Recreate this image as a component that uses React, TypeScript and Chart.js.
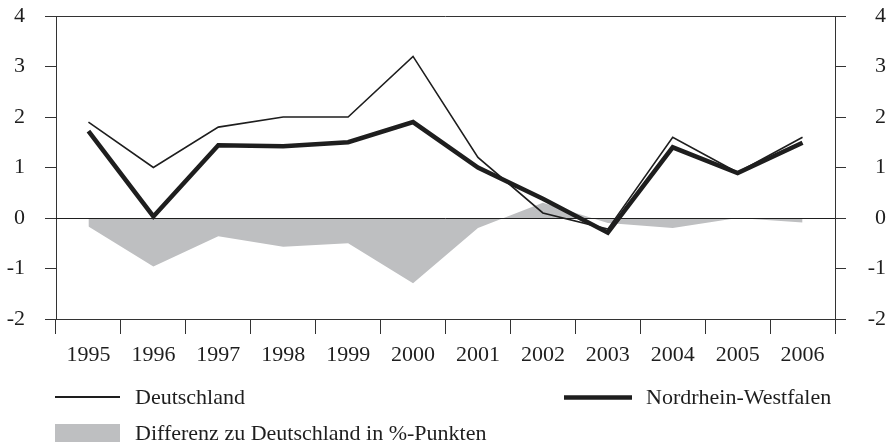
import React, { useEffect, useRef } from "react";
import { Chart, registerables } from "chart.js";

Chart.register(...registerables);

const years = ["1995", "1996", "1997", "1998", "1999", "2000", "2001", "2002", "2003", "2004", "2005", "2006"];
const deutschland = [1.9, 1.0, 1.8, 2.0, 2.0, 3.2, 1.2, 0.1, -0.22, 1.6, 0.9, 1.6];
const nrw = [1.72, 0.03, 1.44, 1.42, 1.5, 1.9, 1.0, 0.38, -0.29, 1.4, 0.89, 1.49];
const differenz = [-0.17, -0.96, -0.36, -0.57, -0.5, -1.29, -0.2, 0.3, -0.1, -0.2, 0.0, -0.09];

const labelDeutschland = "Deutschland";
const labelNrw = "Nordrhein-Westfalen";
const labelDiff = "Differenz zu Deutschland in %-Punkten";

const FONT = '"Liberation Serif", "Times New Roman", serif';
const INK = "#1e1e1e";
const AXIS = "#333333";
const GRAY = "#bebfc1";

export default function App() {
  const ref = useRef<HTMLCanvasElement | null>(null);

  useEffect(() => {
    if (!ref.current) return;
    const overlay = {
      id: "overlay",
      afterDatasetDraw(chart: any, args: any) {
        if (args.index !== 2) return;
        const { ctx, chartArea } = chart;
        const y0 = chart.scales.y.getPixelForValue(0);
        ctx.save();
        ctx.strokeStyle = INK;
        ctx.lineWidth = 1;
        ctx.beginPath();
        ctx.moveTo(chartArea.left, Math.round(y0) + 0.5);
        ctx.lineTo(chartArea.right, Math.round(y0) + 0.5);
        ctx.stroke();
        ctx.restore();
      },
      afterDraw(chart: any) {
        const { ctx, chartArea } = chart;
        ctx.save();
        ctx.strokeStyle = AXIS;
        ctx.lineWidth = 1;
        ctx.beginPath();
        ctx.moveTo(chartArea.left, Math.round(chartArea.top) + 0.5);
        ctx.lineTo(chartArea.right, Math.round(chartArea.top) + 0.5);
        ctx.stroke();

        // legend
        ctx.font = `22px ${FONT}`;
        ctx.fillStyle = INK;
        ctx.textBaseline = "alphabetic";
        ctx.textAlign = "left";
        ctx.strokeStyle = INK;
        ctx.lineWidth = 2;
        ctx.beginPath();
        ctx.moveTo(55, 397);
        ctx.lineTo(120, 397);
        ctx.stroke();
        ctx.fillText(labelDeutschland, 135, 404);
        ctx.lineWidth = 4.5;
        ctx.beginPath();
        ctx.moveTo(564, 397.5);
        ctx.lineTo(632, 397.5);
        ctx.stroke();
        ctx.fillText(labelNrw, 646, 404);
        ctx.fillStyle = GRAY;
        ctx.fillRect(55, 424, 65, 18);
        ctx.fillStyle = INK;
        ctx.fillText(labelDiff, 135, 440);
        ctx.restore();
      },
    };

    const tickFont = { family: FONT, size: 22 };
    const chart = new Chart(ref.current, {
      type: "line",
      data: {
        labels: years,
        datasets: [
          {
            label: labelDeutschland,
            data: deutschland,
            borderColor: INK,
            borderWidth: 1.6,
            pointRadius: 0,
            tension: 0,
            fill: false,
            yAxisID: "y",
          },
          {
            label: labelNrw,
            data: nrw,
            borderColor: INK,
            borderWidth: 4.5,
            pointRadius: 0,
            tension: 0,
            fill: false,
            yAxisID: "y",
          },
          {
            label: labelDiff,
            data: differenz,
            borderColor: GRAY,
            borderWidth: 0,
            backgroundColor: GRAY,
            pointRadius: 0,
            tension: 0,
            fill: "origin",
            yAxisID: "y",
          },
        ],
      },
      options: {
        animation: false,
        responsive: false,
        layout: { padding: { top: 16, left: 0, right: 0, bottom: 0 } },
        plugins: { legend: { display: false }, tooltip: { enabled: false } },
        scales: {
          x: {
            type: "category",
            offset: true,
            afterFit: (s: any) => {
              s.height = 126;
              s.paddingLeft = 0;
              s.paddingRight = 0;
            },
            grid: {
              offset: true,
              drawOnChartArea: false,
              drawTicks: true,
              tickLength: 15,
              color: AXIS,
              lineWidth: 1,
            },
            border: { display: true, color: AXIS, width: 1 },
            ticks: {
              font: tickFont,
              color: INK,
              padding: 8,
              maxRotation: 0,
              autoSkip: false,
            },
          },
          y: {
            position: "left",
            min: -2,
            max: 4,
            afterFit: (s: any) => {
              s.width = 56;
              s.paddingTop = 0;
              s.paddingBottom = 0;
            },
            grid: {
              drawOnChartArea: false,
              drawTicks: true,
              tickLength: 11,
              color: AXIS,
            },
            border: { display: true, color: AXIS, width: 1 },
            ticks: { stepSize: 1, font: tickFont, color: INK, padding: 20 },
          },
          y2: {
            position: "right",
            min: -2,
            max: 4,
            afterFit: (s: any) => {
              s.width = 51;
              s.paddingTop = 0;
              s.paddingBottom = 0;
            },
            grid: {
              drawOnChartArea: false,
              drawTicks: true,
              tickLength: 11,
              color: AXIS,
            },
            border: { display: true, color: AXIS, width: 1 },
            ticks: { stepSize: 1, font: tickFont, color: INK, padding: 20, crossAlign: "far" },
          },
        },
      },
      plugins: [overlay],
    } as any);
    return () => chart.destroy();
  }, []);

  return (
    <div style={{ position: "fixed", left: 0, top: 0, width: 886, height: 445, background: "#fff" }}>
      <canvas ref={ref} width={886} height={445} style={{ width: 886, height: 445 }} />
    </div>
  );
}
